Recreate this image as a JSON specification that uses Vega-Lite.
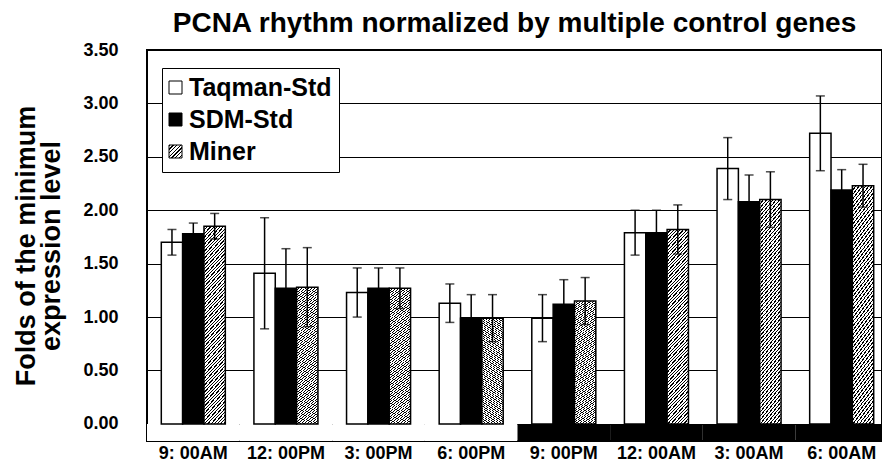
{
  "$schema": "https://vega.github.io/schema/vega-lite/v6.json",
  "width": 735,
  "height": 391,
  "autosize": {"type": "none"},
  "padding": {"left": 147, "top": 50, "right": 0, "bottom": 24},
  "title": {
    "text": "PCNA rhythm normalized by multiple control genes",
    "fontSize": 28,
    "fontWeight": "bold",
    "font": "Liberation Sans",
    "color": "#000",
    "anchor": "middle",
    "offset": 3
  },
  "config": {
    "font": "Liberation Sans",
    "view": {"stroke": "#000", "strokeWidth": 2},
    "axis": {"labelColor": "#000", "titleColor": "#000", "labelFontWeight": "bold", "titleFontWeight": "bold"},
    "legend": {
      "orient": "none",
      "legendX": 15,
      "legendY": 18,
      "strokeColor": "#000",
      "fillColor": "#fff",
      "padding": 7,
      "symbolType": "square",
      "symbolSize": 169,
      "symbolStrokeWidth": 1,
      "symbolOpacity": 1,
      "symbolOffset": -6,
      "labelFontSize": 25,
      "labelFontWeight": "bold",
      "labelColor": "#000",
      "labelOffset": 1,
      "rowPadding": 6
    }
  },
  "datasets": {
    "bars": [
      {"time": "9: 00AM", "series": "Taqman-Std", "value": 1.70, "err": 0.12},
      {"time": "9: 00AM", "series": "SDM-Std", "value": 1.78, "err": 0.10},
      {"time": "9: 00AM", "series": "Miner", "value": 1.85, "err": 0.12},
      {"time": "12: 00PM", "series": "Taqman-Std", "value": 1.41, "err": 0.52},
      {"time": "12: 00PM", "series": "SDM-Std", "value": 1.27, "err": 0.37},
      {"time": "12: 00PM", "series": "Miner", "value": 1.28, "err": 0.37},
      {"time": "3: 00PM", "series": "Taqman-Std", "value": 1.23, "err": 0.23},
      {"time": "3: 00PM", "series": "SDM-Std", "value": 1.27, "err": 0.19},
      {"time": "3: 00PM", "series": "Miner", "value": 1.27, "err": 0.19},
      {"time": "6: 00PM", "series": "Taqman-Std", "value": 1.13, "err": 0.18},
      {"time": "6: 00PM", "series": "SDM-Std", "value": 0.99, "err": 0.22},
      {"time": "6: 00PM", "series": "Miner", "value": 0.99, "err": 0.22},
      {"time": "9: 00PM", "series": "Taqman-Std", "value": 0.99, "err": 0.22},
      {"time": "9: 00PM", "series": "SDM-Std", "value": 1.12, "err": 0.23},
      {"time": "9: 00PM", "series": "Miner", "value": 1.15, "err": 0.22},
      {"time": "12: 00AM", "series": "Taqman-Std", "value": 1.79, "err": 0.21},
      {"time": "12: 00AM", "series": "SDM-Std", "value": 1.79, "err": 0.21},
      {"time": "12: 00AM", "series": "Miner", "value": 1.82, "err": 0.23},
      {"time": "3: 00AM", "series": "Taqman-Std", "value": 2.39, "err": 0.29},
      {"time": "3: 00AM", "series": "SDM-Std", "value": 2.08, "err": 0.25},
      {"time": "3: 00AM", "series": "Miner", "value": 2.10, "err": 0.26},
      {"time": "6: 00AM", "series": "Taqman-Std", "value": 2.72, "err": 0.35},
      {"time": "6: 00AM", "series": "SDM-Std", "value": 2.19, "err": 0.19},
      {"time": "6: 00AM", "series": "Miner", "value": 2.23, "err": 0.20}
    ],
    "band": [
      {"time": "9: 00AM", "period": "day"},
      {"time": "12: 00PM", "period": "day"},
      {"time": "3: 00PM", "period": "day"},
      {"time": "6: 00PM", "period": "day"},
      {"time": "9: 00PM", "period": "night"},
      {"time": "12: 00AM", "period": "night"},
      {"time": "3: 00AM", "period": "night"},
      {"time": "6: 00AM", "period": "night"}
    ]
  },
  "encoding": {
    "x": {
      "field": "time",
      "type": "nominal",
      "scale": {
        "domain": ["9: 00AM", "12: 00PM", "3: 00PM", "6: 00PM", "9: 00PM", "12: 00AM", "3: 00AM", "6: 00AM"],
        "range": [0, 741],
        "paddingInner": 0,
        "paddingOuter": 0
      },
      "axis": {
        "title": null,
        "domain": false,
        "ticks": false,
        "labelAngle": 0,
        "labelPadding": 3,
        "labelFontSize": 18,
        "grid": false
      }
    }
  },
  "layer": [
    {
      "data": {"name": "band"},
      "mark": {"type": "rect"},
      "encoding": {
        "y": {"datum": -0.16, "type": "quantitative", "title": ["Folds of the minimum", "expression level"]},
        "y2": {"datum": 0},
        "color": {
          "field": "period",
          "type": "nominal",
          "scale": {"domain": ["day", "night"], "range": ["#ffffff", "#000000"]},
          "legend": null
        }
      }
    },
    {
      "data": {"name": "bars"},
      "mark": {"type": "bar", "strokeWidth": 1.5},
      "encoding": {
        "xOffset": {
          "field": "series",
          "type": "nominal",
          "scale": {"domain": ["Taqman-Std", "SDM-Std", "Miner"], "paddingInner": 0, "paddingOuter": 0.67}
        },
        "y": {
          "field": "value",
          "type": "quantitative",
          "title": ["Folds of the minimum", "expression level"],
          "scale": {"domain": [-0.16, 3.5], "nice": false, "zero": false},
          "axis": {
            "values": [0, 0.5, 1, 1.5, 2, 2.5, 3, 3.5],
            "format": ".2f",
            "grid": true,
            "gridColor": "#000",
            "gridWidth": 1,
            "gridOpacity": 1,
            "domain": false,
            "ticks": false,
            "labelPadding": 29,
            "labelFontSize": 18,
            "titleFontSize": 27,
            "titleLineHeight": 25,
            "titlePadding": 17
          }
        },
        "stroke": {
          "field": "series",
          "type": "nominal",
          "scale": {"domain": ["Taqman-Std", "SDM-Std", "Miner"], "range": ["#000000", "#000000", "#000000"]},
          "legend": {"title": null}
        },
        "fill": {
          "field": "series",
          "type": "nominal",
          "scale": {
            "domain": ["Taqman-Std", "SDM-Std", "Miner"],
            "range": [
              "#ffffff",
              "#000000",
              {"expr": "{gradient: 'linear', x1: 0, y1: 0, x2: 1, y2: 1, stops: [{offset: 0, color: '#000'}, {offset: 0.05, color: '#000'}, {offset: 0.05, color: '#fff'}, {offset: 0.143, color: '#fff'}, {offset: 0.143, color: '#000'}, {offset: 0.193, color: '#000'}, {offset: 0.193, color: '#fff'}, {offset: 0.286, color: '#fff'}, {offset: 0.286, color: '#000'}, {offset: 0.336, color: '#000'}, {offset: 0.336, color: '#fff'}, {offset: 0.429, color: '#fff'}, {offset: 0.429, color: '#000'}, {offset: 0.479, color: '#000'}, {offset: 0.479, color: '#fff'}, {offset: 0.571, color: '#fff'}, {offset: 0.571, color: '#000'}, {offset: 0.621, color: '#000'}, {offset: 0.621, color: '#fff'}, {offset: 0.714, color: '#fff'}, {offset: 0.714, color: '#000'}, {offset: 0.764, color: '#000'}, {offset: 0.764, color: '#fff'}, {offset: 0.857, color: '#fff'}, {offset: 0.857, color: '#000'}, {offset: 0.907, color: '#000'}, {offset: 0.907, color: '#fff'}, {offset: 1, color: '#fff'}]}"}
            ]
          },
          "condition": {
            "test": "datum.series === 'Miner'",
            "value": {
              "gradient": "linear", "x1": 0, "y1": 0, "x2": 0.13, "y2": 1.1,
              "stops": [
                {"offset": 0, "color": "#000"}, {"offset": 0.006, "color": "#000"}, {"offset": 0.006, "color": "#fff"}, {"offset": 0.016, "color": "#fff"},
                {"offset": 0.016, "color": "#000"}, {"offset": 0.022, "color": "#000"}, {"offset": 0.022, "color": "#fff"}, {"offset": 0.032, "color": "#fff"},
                {"offset": 0.032, "color": "#000"}, {"offset": 0.038, "color": "#000"}, {"offset": 0.038, "color": "#fff"}, {"offset": 0.048, "color": "#fff"},
                {"offset": 0.048, "color": "#000"}, {"offset": 0.054, "color": "#000"}, {"offset": 0.054, "color": "#fff"}, {"offset": 0.064, "color": "#fff"},
                {"offset": 0.064, "color": "#000"}, {"offset": 0.07, "color": "#000"}, {"offset": 0.07, "color": "#fff"}, {"offset": 0.08, "color": "#fff"},
                {"offset": 0.08, "color": "#000"}, {"offset": 0.086, "color": "#000"}, {"offset": 0.086, "color": "#fff"}, {"offset": 0.096, "color": "#fff"},
                {"offset": 0.096, "color": "#000"}, {"offset": 0.102, "color": "#000"}, {"offset": 0.102, "color": "#fff"}, {"offset": 0.112, "color": "#fff"},
                {"offset": 0.112, "color": "#000"}, {"offset": 0.118, "color": "#000"}, {"offset": 0.118, "color": "#fff"}, {"offset": 0.128, "color": "#fff"},
                {"offset": 0.128, "color": "#000"}, {"offset": 0.134, "color": "#000"}, {"offset": 0.134, "color": "#fff"}, {"offset": 0.144, "color": "#fff"},
                {"offset": 0.144, "color": "#000"}, {"offset": 0.15, "color": "#000"}, {"offset": 0.15, "color": "#fff"}, {"offset": 0.16, "color": "#fff"},
                {"offset": 0.16, "color": "#000"}, {"offset": 0.166, "color": "#000"}, {"offset": 0.166, "color": "#fff"}, {"offset": 0.176, "color": "#fff"},
                {"offset": 0.176, "color": "#000"}, {"offset": 0.182, "color": "#000"}, {"offset": 0.182, "color": "#fff"}, {"offset": 0.192, "color": "#fff"},
                {"offset": 0.192, "color": "#000"}, {"offset": 0.198, "color": "#000"}, {"offset": 0.198, "color": "#fff"}, {"offset": 0.208, "color": "#fff"},
                {"offset": 0.208, "color": "#000"}, {"offset": 0.214, "color": "#000"}, {"offset": 0.214, "color": "#fff"}, {"offset": 0.224, "color": "#fff"},
                {"offset": 0.224, "color": "#000"}, {"offset": 0.23, "color": "#000"}, {"offset": 0.23, "color": "#fff"}, {"offset": 0.24, "color": "#fff"},
                {"offset": 0.24, "color": "#000"}, {"offset": 0.246, "color": "#000"}, {"offset": 0.246, "color": "#fff"}, {"offset": 0.256, "color": "#fff"},
                {"offset": 0.256, "color": "#000"}, {"offset": 0.262, "color": "#000"}, {"offset": 0.262, "color": "#fff"}, {"offset": 0.272, "color": "#fff"},
                {"offset": 0.272, "color": "#000"}, {"offset": 0.278, "color": "#000"}, {"offset": 0.278, "color": "#fff"}, {"offset": 0.288, "color": "#fff"},
                {"offset": 0.288, "color": "#000"}, {"offset": 0.294, "color": "#000"}, {"offset": 0.294, "color": "#fff"}, {"offset": 0.304, "color": "#fff"},
                {"offset": 0.304, "color": "#000"}, {"offset": 0.31, "color": "#000"}, {"offset": 0.31, "color": "#fff"}, {"offset": 0.32, "color": "#fff"},
                {"offset": 0.32, "color": "#000"}, {"offset": 0.326, "color": "#000"}, {"offset": 0.326, "color": "#fff"}, {"offset": 0.336, "color": "#fff"},
                {"offset": 0.336, "color": "#000"}, {"offset": 0.342, "color": "#000"}, {"offset": 0.342, "color": "#fff"}, {"offset": 0.352, "color": "#fff"},
                {"offset": 0.352, "color": "#000"}, {"offset": 0.358, "color": "#000"}, {"offset": 0.358, "color": "#fff"}, {"offset": 0.368, "color": "#fff"},
                {"offset": 0.368, "color": "#000"}, {"offset": 0.374, "color": "#000"}, {"offset": 0.374, "color": "#fff"}, {"offset": 0.384, "color": "#fff"},
                {"offset": 0.384, "color": "#000"}, {"offset": 0.39, "color": "#000"}, {"offset": 0.39, "color": "#fff"}, {"offset": 0.4, "color": "#fff"},
                {"offset": 0.4, "color": "#000"}, {"offset": 0.406, "color": "#000"}, {"offset": 0.406, "color": "#fff"}, {"offset": 0.416, "color": "#fff"},
                {"offset": 0.416, "color": "#000"}, {"offset": 0.422, "color": "#000"}, {"offset": 0.422, "color": "#fff"}, {"offset": 0.432, "color": "#fff"},
                {"offset": 0.432, "color": "#000"}, {"offset": 0.438, "color": "#000"}, {"offset": 0.438, "color": "#fff"}, {"offset": 0.448, "color": "#fff"},
                {"offset": 0.448, "color": "#000"}, {"offset": 0.454, "color": "#000"}, {"offset": 0.454, "color": "#fff"}, {"offset": 0.464, "color": "#fff"},
                {"offset": 0.464, "color": "#000"}, {"offset": 0.47, "color": "#000"}, {"offset": 0.47, "color": "#fff"}, {"offset": 0.48, "color": "#fff"},
                {"offset": 0.48, "color": "#000"}, {"offset": 0.486, "color": "#000"}, {"offset": 0.486, "color": "#fff"}, {"offset": 0.496, "color": "#fff"},
                {"offset": 0.496, "color": "#000"}, {"offset": 0.502, "color": "#000"}, {"offset": 0.502, "color": "#fff"}, {"offset": 0.512, "color": "#fff"},
                {"offset": 0.512, "color": "#000"}, {"offset": 0.518, "color": "#000"}, {"offset": 0.518, "color": "#fff"}, {"offset": 0.528, "color": "#fff"},
                {"offset": 0.528, "color": "#000"}, {"offset": 0.534, "color": "#000"}, {"offset": 0.534, "color": "#fff"}, {"offset": 0.544, "color": "#fff"},
                {"offset": 0.544, "color": "#000"}, {"offset": 0.55, "color": "#000"}, {"offset": 0.55, "color": "#fff"}, {"offset": 0.56, "color": "#fff"},
                {"offset": 0.56, "color": "#000"}, {"offset": 0.566, "color": "#000"}, {"offset": 0.566, "color": "#fff"}, {"offset": 0.576, "color": "#fff"},
                {"offset": 0.576, "color": "#000"}, {"offset": 0.582, "color": "#000"}, {"offset": 0.582, "color": "#fff"}, {"offset": 0.592, "color": "#fff"},
                {"offset": 0.592, "color": "#000"}, {"offset": 0.598, "color": "#000"}, {"offset": 0.598, "color": "#fff"}, {"offset": 0.608, "color": "#fff"},
                {"offset": 0.608, "color": "#000"}, {"offset": 0.614, "color": "#000"}, {"offset": 0.614, "color": "#fff"}, {"offset": 0.624, "color": "#fff"},
                {"offset": 0.624, "color": "#000"}, {"offset": 0.63, "color": "#000"}, {"offset": 0.63, "color": "#fff"}, {"offset": 0.64, "color": "#fff"},
                {"offset": 0.64, "color": "#000"}, {"offset": 0.646, "color": "#000"}, {"offset": 0.646, "color": "#fff"}, {"offset": 0.656, "color": "#fff"},
                {"offset": 0.656, "color": "#000"}, {"offset": 0.662, "color": "#000"}, {"offset": 0.662, "color": "#fff"}, {"offset": 0.672, "color": "#fff"},
                {"offset": 0.672, "color": "#000"}, {"offset": 0.678, "color": "#000"}, {"offset": 0.678, "color": "#fff"}, {"offset": 0.688, "color": "#fff"},
                {"offset": 0.688, "color": "#000"}, {"offset": 0.694, "color": "#000"}, {"offset": 0.694, "color": "#fff"}, {"offset": 0.704, "color": "#fff"},
                {"offset": 0.704, "color": "#000"}, {"offset": 0.71, "color": "#000"}, {"offset": 0.71, "color": "#fff"}, {"offset": 0.72, "color": "#fff"},
                {"offset": 0.72, "color": "#000"}, {"offset": 0.726, "color": "#000"}, {"offset": 0.726, "color": "#fff"}, {"offset": 0.736, "color": "#fff"},
                {"offset": 0.736, "color": "#000"}, {"offset": 0.742, "color": "#000"}, {"offset": 0.742, "color": "#fff"}, {"offset": 0.752, "color": "#fff"},
                {"offset": 0.752, "color": "#000"}, {"offset": 0.758, "color": "#000"}, {"offset": 0.758, "color": "#fff"}, {"offset": 0.768, "color": "#fff"},
                {"offset": 0.768, "color": "#000"}, {"offset": 0.774, "color": "#000"}, {"offset": 0.774, "color": "#fff"}, {"offset": 0.784, "color": "#fff"},
                {"offset": 0.784, "color": "#000"}, {"offset": 0.79, "color": "#000"}, {"offset": 0.79, "color": "#fff"}, {"offset": 0.8, "color": "#fff"},
                {"offset": 0.8, "color": "#000"}, {"offset": 0.806, "color": "#000"}, {"offset": 0.806, "color": "#fff"}, {"offset": 0.816, "color": "#fff"},
                {"offset": 0.816, "color": "#000"}, {"offset": 0.822, "color": "#000"}, {"offset": 0.822, "color": "#fff"}, {"offset": 0.832, "color": "#fff"},
                {"offset": 0.832, "color": "#000"}, {"offset": 0.838, "color": "#000"}, {"offset": 0.838, "color": "#fff"}, {"offset": 0.848, "color": "#fff"},
                {"offset": 0.848, "color": "#000"}, {"offset": 0.854, "color": "#000"}, {"offset": 0.854, "color": "#fff"}, {"offset": 0.864, "color": "#fff"},
                {"offset": 0.864, "color": "#000"}, {"offset": 0.87, "color": "#000"}, {"offset": 0.87, "color": "#fff"}, {"offset": 0.88, "color": "#fff"},
                {"offset": 0.88, "color": "#000"}, {"offset": 0.886, "color": "#000"}, {"offset": 0.886, "color": "#fff"}, {"offset": 0.896, "color": "#fff"},
                {"offset": 0.896, "color": "#000"}, {"offset": 0.902, "color": "#000"}, {"offset": 0.902, "color": "#fff"}, {"offset": 0.912, "color": "#fff"},
                {"offset": 0.912, "color": "#000"}, {"offset": 0.918, "color": "#000"}, {"offset": 0.918, "color": "#fff"}, {"offset": 0.928, "color": "#fff"},
                {"offset": 0.928, "color": "#000"}, {"offset": 0.934, "color": "#000"}, {"offset": 0.934, "color": "#fff"}, {"offset": 0.944, "color": "#fff"},
                {"offset": 0.944, "color": "#000"}, {"offset": 0.95, "color": "#000"}, {"offset": 0.95, "color": "#fff"}, {"offset": 0.96, "color": "#fff"},
                {"offset": 0.96, "color": "#000"}, {"offset": 0.966, "color": "#000"}, {"offset": 0.966, "color": "#fff"}, {"offset": 0.976, "color": "#fff"},
                {"offset": 0.976, "color": "#000"}, {"offset": 0.982, "color": "#000"}, {"offset": 0.982, "color": "#fff"}, {"offset": 0.992, "color": "#fff"},
                {"offset": 0.992, "color": "#000"}, {"offset": 0.998, "color": "#000"}, {"offset": 0.998, "color": "#fff"}, {"offset": 1, "color": "#fff"}
              ]
            }
          },
          "legend": {"title": null}
        }
      }
    },
    {
      "data": {"name": "bars"},
      "mark": {
        "type": "errorbar",
        "color": "#000",
        "ticks": {"size": 9, "thickness": 1.5, "color": "#000"},
        "rule": {"strokeWidth": 1.5, "color": "#000"}
      },
      "encoding": {
        "xOffset": {"field": "series", "type": "nominal"},
        "y": {"field": "value", "type": "quantitative", "title": ["Folds of the minimum", "expression level"]},
        "yError": {"field": "err"}
      }
    },
    {
      "mark": {"type": "rule", "strokeWidth": 3.5, "color": "#000"},
      "encoding": {"y": {"datum": 0, "type": "quantitative", "title": ["Folds of the minimum", "expression level"]}}
    }
  ]
}
